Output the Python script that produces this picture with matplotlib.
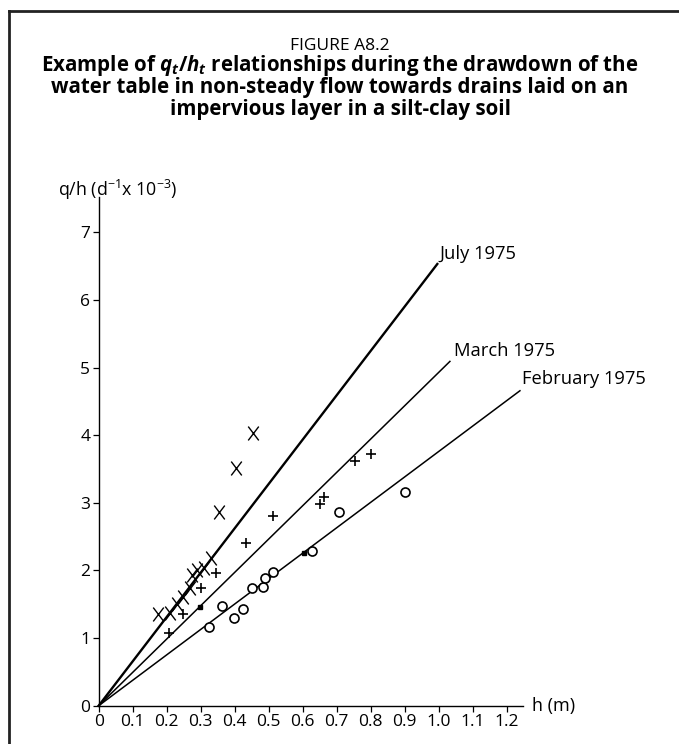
import matplotlib
matplotlib.use("Agg")
import matplotlib.pyplot as plt
from matplotlib.lines import Line2D
from matplotlib.path import Path

plt.rcParams['font.family'] = ['Open Sans', 'DejaVu Sans']
plt.rcParams['mathtext.fontset'] = 'custom'
plt.rcParams['mathtext.rm'] = 'Open Sans:bold'
plt.rcParams['mathtext.it'] = 'Open Sans:italic:bold'
plt.rcParams['mathtext.sf'] = 'Open Sans'

# ---- data ----
july_h = [0.175, 0.21, 0.229, 0.247, 0.269, 0.273, 0.29, 0.31, 0.329, 0.355, 0.404, 0.453]
july_q = [1.36, 1.37, 1.51, 1.61, 1.74, 1.93, 2.01, 2.03, 2.18, 2.87, 3.52, 4.04]

march_h = [0.208, 0.249, 0.301, 0.345, 0.433, 0.512, 0.651, 0.663, 0.754, 0.801]
march_q = [1.08, 1.36, 1.74, 1.97, 2.40, 2.80, 2.98, 3.09, 3.62, 3.72]

feb_h = [0.325, 0.362, 0.399, 0.424, 0.452, 0.484, 0.489, 0.514, 0.626, 0.707, 0.90]
feb_q = [1.16, 1.47, 1.29, 1.43, 1.74, 1.75, 1.89, 1.98, 2.29, 2.87, 3.16]

dot_h = [0.298, 0.604]
dot_q = [1.46, 2.26]

line_names = ['July 1975', 'March 1975', 'February 1975']
line_slopes = [6.56, 4.93, 3.76]
line_end_h = [0.996, 1.033, 1.239]
line_widths = [1.7, 1.1, 1.1]

x_ticks = [0, 0.1, 0.2, 0.3, 0.4, 0.5, 0.6, 0.7, 0.8, 0.9, 1.0, 1.1, 1.2]
x_labels = ['0', '0.1', '0.2', '0.3', '0.4', '0.5', '0.6', '0.7', '0.8', '0.9', '1.0', '1.1', '1.2']
y_ticks = [0, 1, 2, 3, 4, 5, 6, 7]

W, H = 679, 744
fig = plt.figure(figsize=(W / 100, H / 100), dpi=100)

def fx(px):
    return px / W

def fy(py):
    return 1 - py / H

# frame
fig.add_artist(Line2D([fx(9), fx(9)], [fy(11), fy(744)], color='#222222', lw=2.0))
fig.add_artist(Line2D([fx(9), fx(679)], [fy(11), fy(11)], color='#222222', lw=2.0))

# titles
fig.text(fx(340), fy(46), 'FIGURE A8.2', ha='center', va='center', fontsize=12.5)
fig.text(fx(340), fy(66), r'Example of $q_t/h_t$ relationships during the drawdown of the',
         ha='center', va='center', fontsize=14.8, fontweight='bold')
fig.text(fx(340), fy(88), 'water table in non-steady flow towards drains laid on an',
         ha='center', va='center', fontsize=14.8, fontweight='bold')
fig.text(fx(340), fy(110), 'impervious layer in a silt-clay soil',
         ha='center', va='center', fontsize=14.8, fontweight='bold')

# axes
x0, x1 = 98.7, 523.0
ytop, ybot = 197.3, 705.7
ax = fig.add_axes([fx(x0), fy(ybot), fx(x1) - fx(x0), (ybot - ytop) / H])
ax.set_xlim(0, 1.248)
ax.set_ylim(0, 7.52)
for s in ['top', 'right']:
    ax.spines[s].set_visible(False)
for s in ['left', 'bottom']:
    ax.spines[s].set_linewidth(1.0)
ax.set_xticks(x_ticks)
ax.set_xticklabels(x_labels)
ax.set_yticks(y_ticks)
ax.tick_params(axis='both', direction='out', length=4, width=0.9, labelsize=12.5, pad=2)

for name, slope, hend, lw in zip(line_names, line_slopes, line_end_h, line_widths):
    ax.plot([0, hend], [0, slope * hend], color='black', lw=lw, clip_on=False)

x_marker = Path([(-0.38, -0.5), (0.38, 0.5), (-0.38, 0.5), (0.38, -0.5)],
                [Path.MOVETO, Path.LINETO, Path.MOVETO, Path.LINETO])

ax.plot(july_h, july_q, linestyle='none', marker=x_marker, markersize=10, mew=1.0,
        color='black', clip_on=False)
ax.plot(march_h, march_q, linestyle='none', marker='+', markersize=7.5, mew=1.2,
        color='black', clip_on=False)
ax.plot(feb_h, feb_q, linestyle='none', marker='o', markersize=6.5, mew=1.2,
        mfc='white', mec='black', clip_on=False)
ax.plot(dot_h, dot_q, linestyle='none', marker='s', markersize=3.5,
        color='black', clip_on=False)

# line labels
fig.text(fx(439), fy(254), line_names[0], ha='left', va='center', fontsize=13.2)
fig.text(fx(454), fy(351), line_names[1], ha='left', va='center', fontsize=13.2)
fig.text(fx(522), fy(379), line_names[2], ha='left', va='center', fontsize=13.2)

# axis titles
fig.text(fx(58), fy(190), r'q/h (d$\mathregular{^{-1}}$x 10$\mathregular{^{-3}}$)',
         ha='left', va='center', fontsize=12.8)
fig.text(fx(532), fy(705.7), 'h (m)', ha='left', va='center', fontsize=13)

fig.savefig('out.png', dpi=100)
